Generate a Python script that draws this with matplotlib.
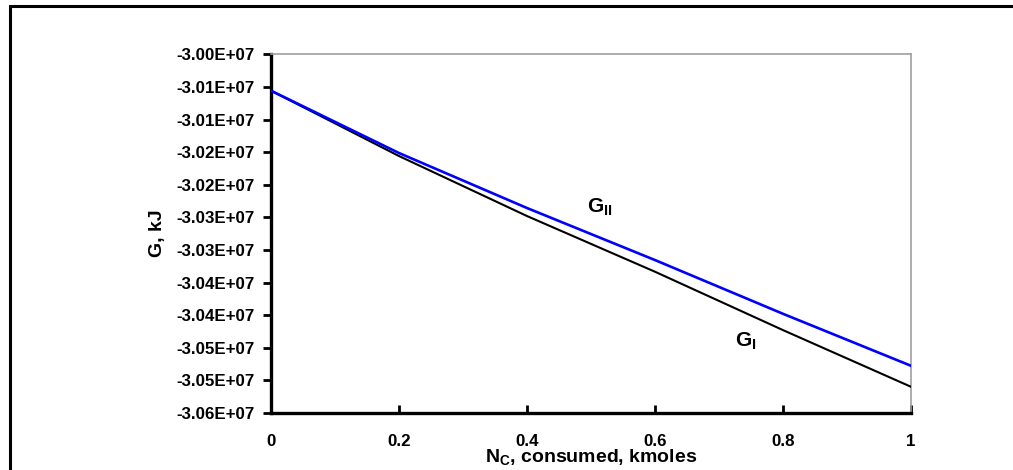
import matplotlib
matplotlib.use("Agg")
import matplotlib.pyplot as plt
from matplotlib.patches import Rectangle

plt.rcParams['font.family'] = ['Liberation Sans', 'DejaVu Sans']
plt.rcParams['font.weight'] = 'bold'
plt.rcParams['mathtext.fontset'] = 'custom'
plt.rcParams['mathtext.rm'] = 'Liberation Sans:bold'
plt.rcParams['mathtext.bf'] = 'Liberation Sans:bold'
plt.rcParams['mathtext.it'] = 'Liberation Sans:bold'

# ---- data ----
n_c = [0.0, 0.2, 0.4, 0.6, 0.8, 1.0]
g_one = [-30055800, -30156000, -30248000, -30333400, -30422900, -30509800]
g_two = [-30055800, -30151400, -30235700, -30315500, -30397900, -30477600]

x_ticks = [0, 0.2, 0.4, 0.6, 0.8, 1]
x_tick_labels = ['0', '0.2', '0.4', '0.6', '0.8', '1']
y_ticks = [-30000000, -30050000, -30100000, -30150000, -30200000, -30250000,
           -30300000, -30350000, -30400000, -30450000, -30500000, -30550000]
y_tick_labels = ['-3.00E+07', '-3.01E+07', '-3.01E+07', '-3.02E+07', '-3.02E+07',
                 '-3.03E+07', '-3.03E+07', '-3.04E+07', '-3.04E+07', '-3.05E+07',
                 '-3.05E+07', '-3.06E+07']

W, H = 1013, 470
fig = plt.figure(figsize=(W / 100, H / 100), dpi=100)
fig.patch.set_facecolor('white')

# outer frame (extends beyond right/bottom edges)
fig.patches.append(Rectangle((9.5 / W, -0.1), 1.2, 1 - 5.5 / H + 0.1,
                             transform=fig.transFigure, fill=False,
                             edgecolor='black', linewidth=2.2, clip_on=False))

ax = fig.add_axes([271 / W, 1 - 413 / H, (911 - 271) / W, (413 - 54.3) / H])

ax.plot(n_c, g_one, color='black', linewidth=1.5, zorder=3)
ax.plot(n_c, g_two, color='#0000FF', linewidth=1.9, zorder=4)

ax.set_xlim(0, 1)
ax.set_ylim(-30550000, -30000000)
ax.set_xticks(x_ticks)
ax.set_xticklabels(x_tick_labels)
ax.set_yticks(y_ticks)
ax.set_yticklabels(y_tick_labels)

for lab in ax.get_xticklabels() + ax.get_yticklabels():
    lab.set_fontsize(12.2)
    lab.set_fontweight('bold')

ax.tick_params(axis='x', direction='in', length=6, width=2, pad=15)
ax.tick_params(axis='y', direction='out', length=6, width=2, pad=6)

for s in ['left', 'bottom']:
    ax.spines[s].set_linewidth(2.4)
    ax.spines[s].set_color('black')
for s in ['top', 'right']:
    ax.spines[s].set_linewidth(1.2)
    ax.spines[s].set_color('#A0A0A0')

ax.set_xlabel(r'N$_\mathrm{C}$, consumed, kmoles', fontsize=14, fontweight='bold', labelpad=-1)
ax.set_ylabel('G, kJ', fontsize=14, fontweight='bold', labelpad=7)

ax.text(0.494, -30234000, r'G$_\mathrm{II}$', fontsize=15, fontweight='bold',
        ha='left', va='center')
ax.text(0.725, -30440000, r'G$_\mathrm{I}$', fontsize=15, fontweight='bold',
        ha='left', va='center')

fig.savefig('out.png', dpi=100)
